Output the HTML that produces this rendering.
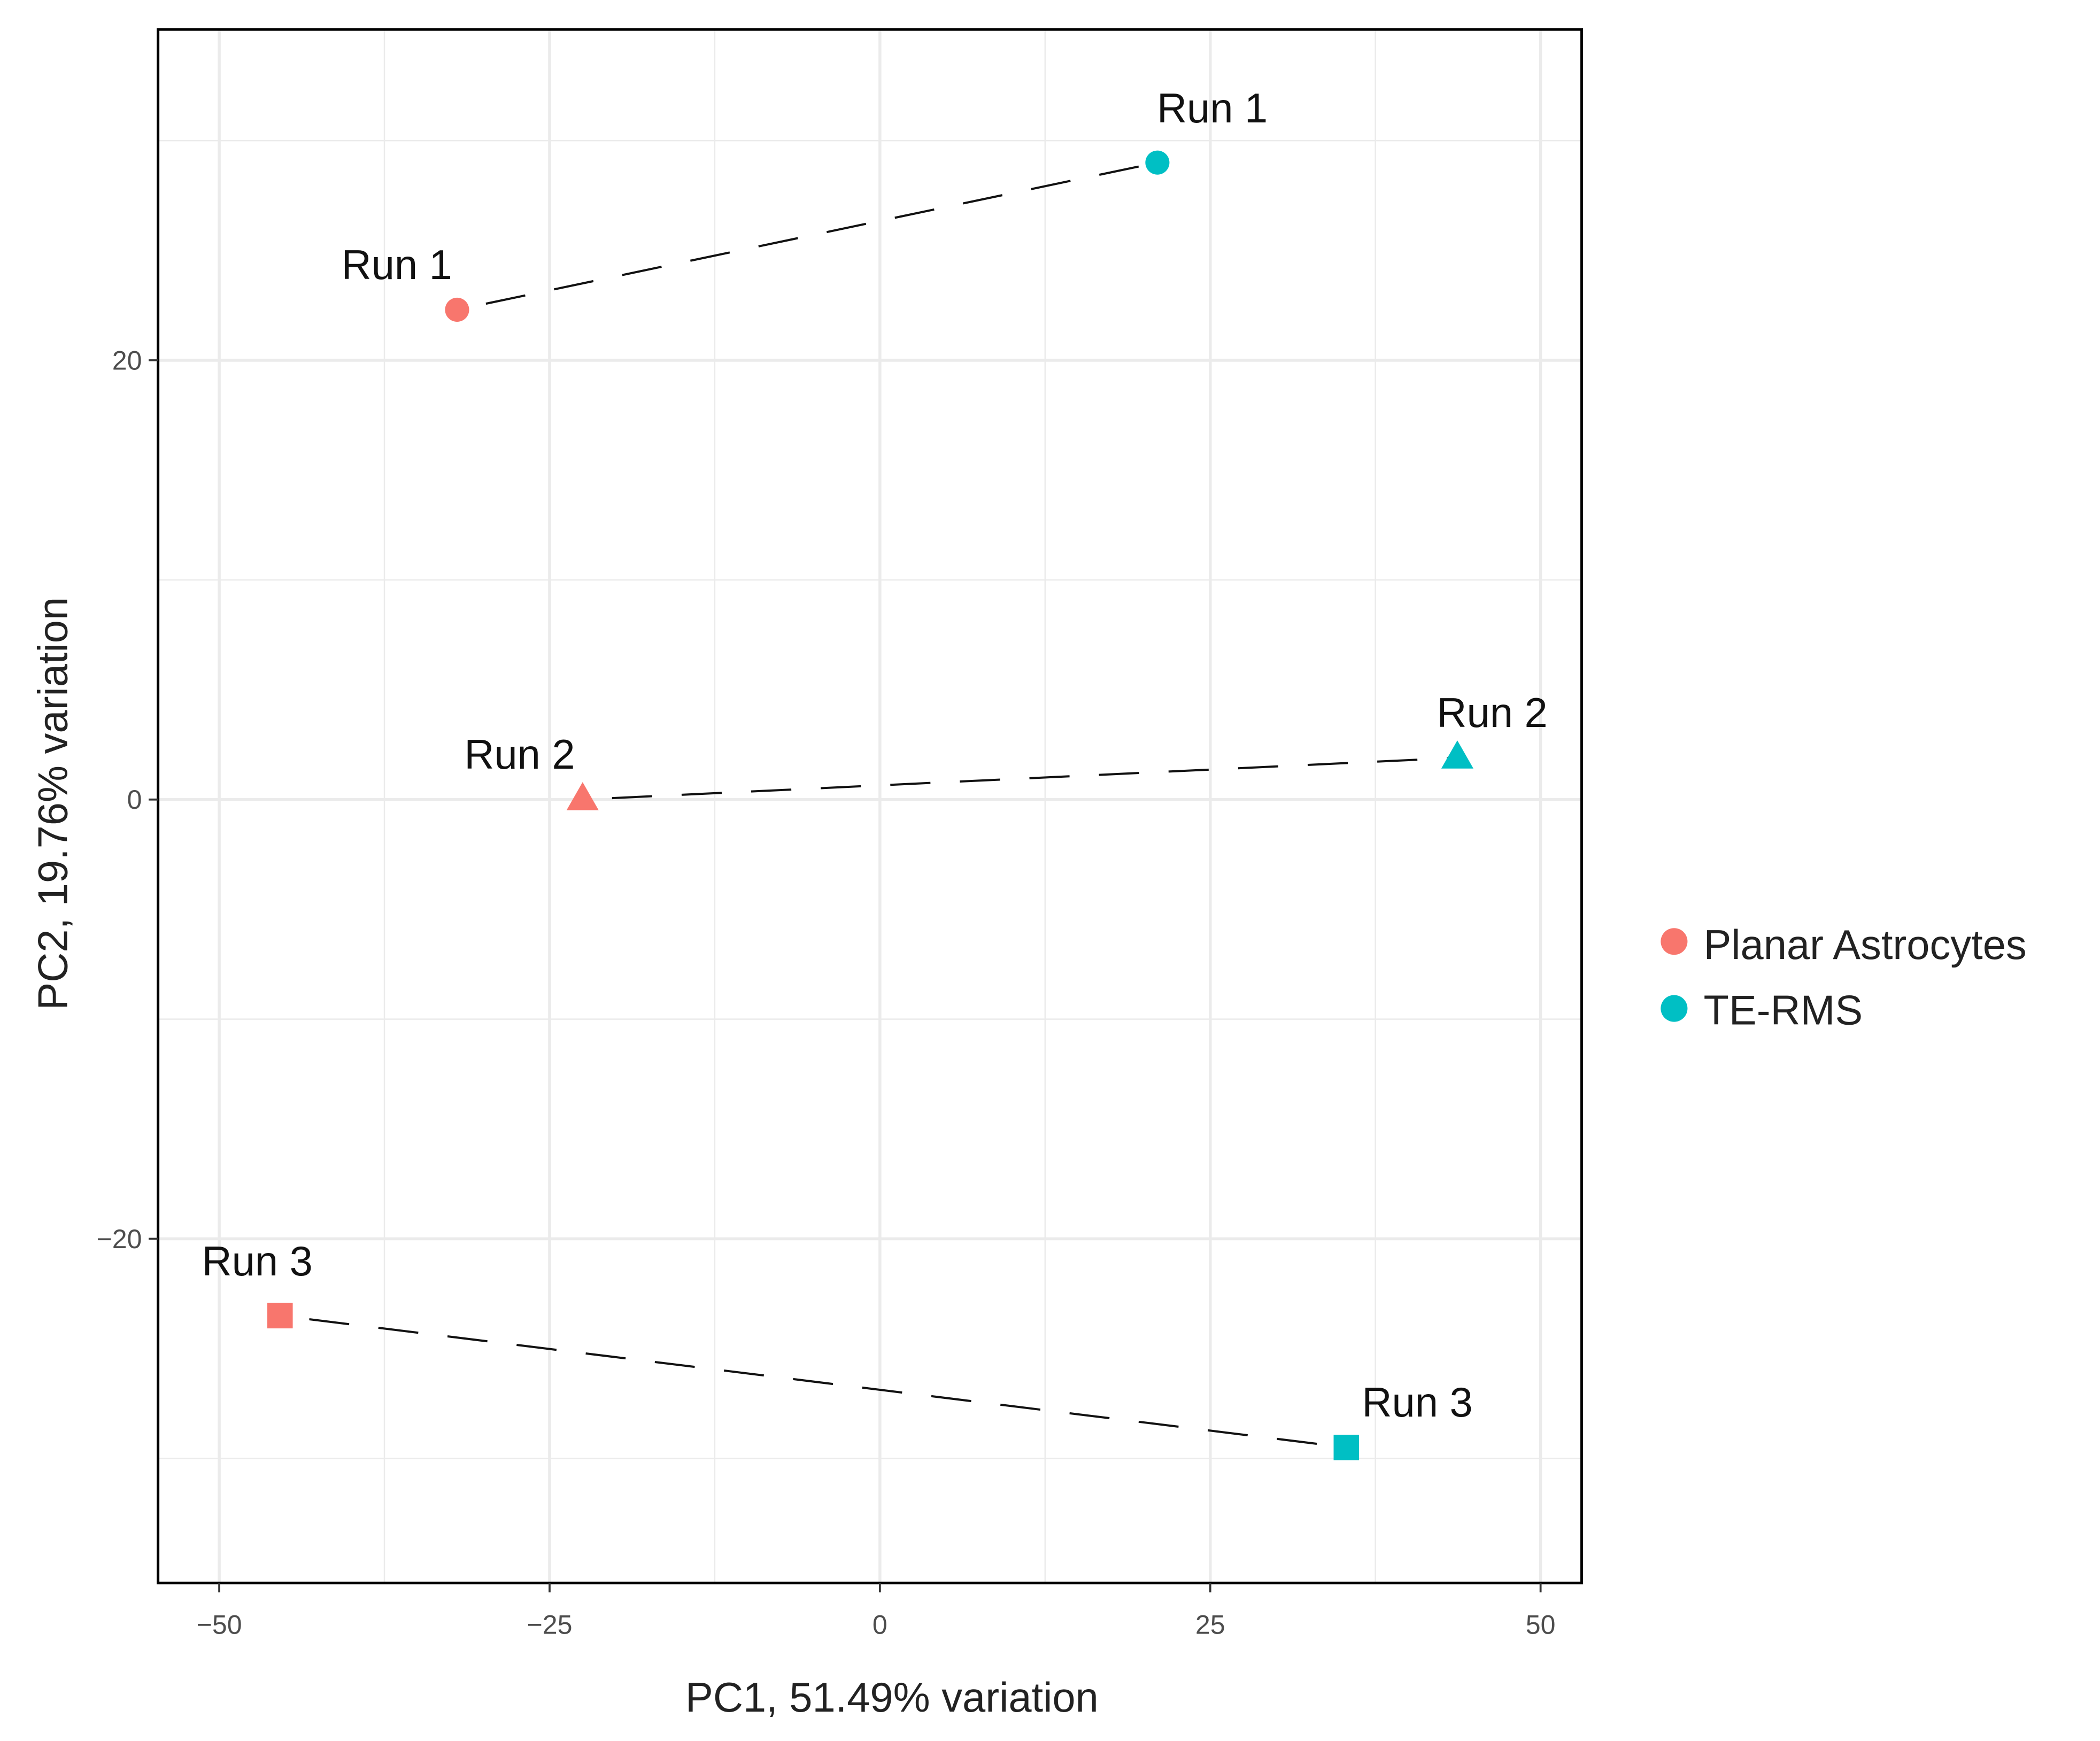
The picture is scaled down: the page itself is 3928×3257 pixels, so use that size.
<!DOCTYPE html>
<html><head><meta charset="utf-8"><style>
html,body{margin:0;padding:0;background:#fff;}
svg{display:block;font-family:"Liberation Sans",sans-serif;}
</style></head><body>
<svg id="chart" width="3928" height="3257" viewBox="0 0 1568 1300" preserveAspectRatio="none">
<rect x="0" y="0" width="1568" height="1300" fill="#fff"/>
<g id="grid"></g>
<g id="lines"></g>
<g id="points"></g>
<rect x="118" y="22" width="1063" height="1160" fill="none" stroke="#000" stroke-width="2"/>
<g id="axes"></g>
<text x="666" y="1278" text-anchor="middle" font-size="31" fill="#222">PC1, 51.49% variation</text>
<text transform="translate(50,600) rotate(-90)" text-anchor="middle" font-size="31" fill="#222">PC2, 19.76% variation</text>
<g>
<circle cx="1250" cy="703" r="10" fill="#F8766D"/>
<text x="1272" y="716" font-size="31" fill="#222">Planar Astrocytes</text>
<circle cx="1250" cy="753" r="10" fill="#00BFC4"/>
<text x="1272" y="765" font-size="31" fill="#222">TE-RMS</text>
</g>
</svg>
<script>
const xTicks = [-50, -25, 0, 25, 50];
const yTicks = [-20, 0, 20];
const xMinor = [-37.5, -12.5, 12.5, 37.5];
const yMinor = [-30, -10, 10, 30];
const runs = ["Run 1", "Run 2", "Run 3"];
const shapes = ["circle", "triangle", "square"];
const paX = [-32.0, -22.5, -45.4];
const paY = [22.3, 0.0, -23.5];
const teX = [21.0, 43.7, 35.3];
const teY = [29.0, 1.9, -29.5];

const NS = "http://www.w3.org/2000/svg";
const L = 118, R = 1181, T = 22, B = 1182;
// label offsets (pixels, repel placement)
const paLabelDX = [-45, -47, -17], paLabelDY = [-23, -23, -30];
const teLabelDX = [41, 26, 53], teLabelDY = [-30, -23, -23];
function sx(v){ return 657 + v * 9.866; }
function sy(v){ return 597 - v * 16.4; }
function mk(tag, attrs, parent){ const e = document.createElementNS(NS, tag); for (const k in attrs) e.setAttribute(k, attrs[k]); parent.appendChild(e); return e; }

const grid = document.getElementById('grid');
xMinor.forEach(v => { const e = mk('line', {x1: sx(v), x2: sx(v), y1: T, y2: B, stroke: '#ebebeb', 'stroke-width': 1}, grid);
  
   });
yMinor.forEach(v => { const e = mk('line', {x1: L, x2: R, y1: sy(v), y2: sy(v), stroke: '#ebebeb', 'stroke-width': 1}, grid);
  
   });
xTicks.forEach(v => { const e = mk('line', {x1: sx(v), x2: sx(v), y1: T, y2: B, stroke: '#ebebeb', 'stroke-width': 2.2}, grid);
  
   });
yTicks.forEach(v => { const e = mk('line', {x1: L, x2: R, y1: sy(v), y2: sy(v), stroke: '#ebebeb', 'stroke-width': 2.2}, grid);
  
   });

const axes = document.getElementById('axes');
xTicks.forEach(v => {
  const t = mk('line', {x1: sx(v), x2: sx(v), y1: B, y2: B + 7, stroke: '#333', 'stroke-width': 1.5}, axes);
  
  
  const lb = mk('text', {x: sx(v), y: B + 38, 'text-anchor': 'middle', 'font-size': 20, fill: '#4d4d4d'}, axes);
  lb.textContent = v < 0 ? '\u2212' + Math.abs(v) : String(v);
  
  
});
yTicks.forEach(v => {
  const t = mk('line', {x1: L - 7, x2: L, y1: sy(v), y2: sy(v), stroke: '#333', 'stroke-width': 1.5}, axes);
  
  
  const lb = mk('text', {x: L - 12, y: sy(v) + 7, 'text-anchor': 'end', 'font-size': 20, fill: '#4d4d4d'}, axes);
  lb.textContent = v < 0 ? '\u2212' + Math.abs(v) : String(v);
  
  
});

const lines = document.getElementById('lines');
runs.forEach((r, i) => {
  const e = mk('line', {x1: sx(paX[i]), y1: sy(paY[i]), x2: sx(teX[i]), y2: sy(teY[i]), stroke: '#111', 'stroke-width': 1.6, 'stroke-dasharray': '30 22', 'stroke-dashoffset': -22}, lines);
  
  
});

const pts = document.getElementById('points');
function drawPoint(shape, x, y, color){
  let e;
  if (shape === 'circle') e = mk('circle', {cx: x, cy: y, r: 9, fill: color}, pts);
  else if (shape === 'triangle') e = mk('polygon', {points: `${x},${y-13} ${x+12},${y+8} ${x-12},${y+8}`, fill: color}, pts);
  else e = mk('rect', {x: x - 9.5, y: y - 9.5, width: 19, height: 19, fill: color}, pts);
  return e;
}
runs.forEach((r, i) => {
  const a = drawPoint(shapes[i], sx(paX[i]), sy(paY[i]), '#F8766D');
  
  
  const b = drawPoint(shapes[i], sx(teX[i]), sy(teY[i]), '#00BFC4');
  
  
  const la = mk('text', {x: sx(paX[i]) + paLabelDX[i], y: sy(paY[i]) + paLabelDY[i], 'text-anchor': 'middle', 'font-size': 31, fill: '#111'}, pts);
  la.textContent = r;
  
  
  const lb = mk('text', {x: sx(teX[i]) + teLabelDX[i], y: sy(teY[i]) + teLabelDY[i], 'text-anchor': 'middle', 'font-size': 31, fill: '#111'}, pts);
  lb.textContent = r;
  
  
});
</script>
</body></html>
